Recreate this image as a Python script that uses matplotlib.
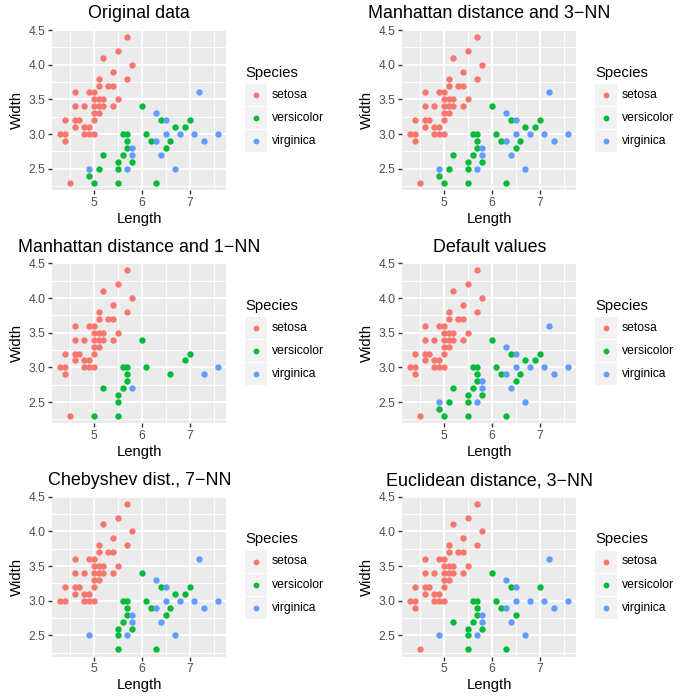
import matplotlib
matplotlib.use('Agg')
import matplotlib.pyplot as plt
from matplotlib.lines import Line2D
from matplotlib.patches import Rectangle
from matplotlib.ticker import MultipleLocator

plt.rcParams['font.family'] = ['Liberation Sans', 'DejaVu Sans']

# test-set points (sepal length, sepal width), grouped by true species
length = [
    # setosa
    5.7, 5.5, 5.2, 5.8, 5.4, 5.1, 5.7, 5.1, 5.3, 5.4,
    4.6, 4.9, 5.0, 5.0, 5.1, 5.2, 5.5, 4.6, 4.8, 5.0,
    5.1, 5.2, 5.4, 5.0, 5.1, 4.4, 4.6, 4.7, 5.0, 4.6,
    4.8, 4.9, 4.3, 4.4, 4.8, 4.9, 5.0, 4.4, 4.5,
    # versicolor
    6.0, 6.4, 7.0, 6.7, 6.9, 5.6, 5.7, 6.1, 5.7, 6.2,
    6.6, 5.7, 6.5, 5.2, 5.6, 5.5, 5.8, 5.1, 5.5, 4.9,
    5.0, 5.5, 6.3,
    # virginica
    7.2, 6.3, 6.5, 6.5, 6.8, 7.1, 7.6, 6.3, 7.3, 5.8,
    5.8, 6.4, 4.9, 5.7, 6.7,
]
width = [
    4.4, 4.2, 4.1, 4.0, 3.9, 3.8, 3.8, 3.7, 3.7, 3.7,
    3.6, 3.6, 3.6, 3.5, 3.5, 3.5, 3.5, 3.4, 3.4, 3.4,
    3.4, 3.4, 3.4, 3.3, 3.3, 3.2, 3.2, 3.2, 3.2, 3.1,
    3.1, 3.1, 3.0, 3.0, 3.0, 3.0, 3.0, 2.9, 2.3,
    3.4, 3.2, 3.2, 3.1, 3.1, 3.0, 3.0, 3.0, 2.9, 2.9,
    2.9, 2.8, 2.8, 2.7, 2.7, 2.6, 2.6, 2.5, 2.5, 2.4,
    2.3, 2.3, 2.3,
    3.6, 3.3, 3.2, 3.0, 3.0, 3.0, 3.0, 2.9, 2.9, 2.8,
    2.7, 2.7, 2.5, 2.5, 2.5,
]

species = ['setosa', 'versicolor', 'virginica']
codes = ['s', 'c', 'v']
colours = ['#F8766D', '#00BA38', '#619CFF']

titles = [
    'Original data',
    'Manhattan distance and 3\u2212NN',
    'Manhattan distance and 1\u2212NN',
    'Default values',
    'Chebyshev dist., 7\u2212NN',
    'Euclidean distance, 3\u2212NN',
]

# label per point in each panel ('.' = not shown)
all_setosa = 'sssssssssssssssssssssssssssssssssssssss'
all_versicolor = 'ccccccccccccccccccccccc'
all_virginica = 'vvvvvvvvvvvvvvv'
labels = [
    all_setosa + all_versicolor + all_virginica,
    all_setosa + all_versicolor + all_virginica,
    all_setosa + 'c.c.ccccc.cc.ccc..c.cc.' + '......v.v.v....',
    all_setosa + all_versicolor + all_virginica,
    'sssssssssssssssssssssssssssssssssssss..' + 'ccccccccccccc.ccc.c..cc' + all_virginica,
    all_setosa + 'ccc..ccccc.cccccc.c..cc' + all_virginica,
]

W = H = 700
col_x = [52.2, 402.2]
row_y = [29.7, 263.0, 496.4]
ax_w, ax_h = 174.2, 160.2


def fx(x):
    return x / W


def fy(y):
    return 1 - y / H


fig = plt.figure(figsize=(7, 7), dpi=100)

xmin, xmax = min(length), max(length)
ymin, ymax = min(width), max(width)
xpad = (xmax - xmin) * 0.05
ypad = (ymax - ymin) * 0.05

for i, title in enumerate(titles):
    r, c = divmod(i, 2)
    left, top = col_x[c], row_y[r]
    ax = fig.add_axes([fx(left), fy(top + ax_h), ax_w / W, ax_h / H])
    ax.set_facecolor('#EBEBEB')
    for s in ax.spines.values():
        s.set_visible(False)
    ax.set_xlim(xmin - xpad, xmax + xpad)
    ax.set_ylim(ymin - ypad, ymax + ypad)
    ax.xaxis.set_major_locator(MultipleLocator(1))
    ax.xaxis.set_minor_locator(MultipleLocator(0.5))
    ax.yaxis.set_major_locator(MultipleLocator(0.5))
    ax.yaxis.set_minor_locator(MultipleLocator(0.25))
    ax.yaxis.set_major_formatter(lambda v, p: '%.1f' % v)
    ax.grid(which='major', color='white', lw=1.37)
    ax.grid(which='minor', color='white', lw=0.68)
    ax.set_axisbelow(True)
    ax.tick_params(which='major', length=2.64, width=1.0, color='#333333',
                   labelcolor='#4D4D4D', labelsize=8.7, pad=2.2)
    ax.tick_params(which='minor', length=0)

    lab = labels[i]
    for code, col in zip(codes, colours):
        xs = [x for x, l in zip(length, lab) if l == code]
        ys = [y for y, l in zip(width, lab) if l == code]
        ax.scatter(xs, ys, s=21, color=col, linewidths=0, zorder=3)

    cx = left + ax_w / 2
    fig.text(fx(cx), fy(top - 11.2), title, ha='center', va='baseline', fontsize=12.9)
    fig.text(fx(cx), fy(top + ax_h + 32.8), 'Length', ha='center', va='baseline', fontsize=10.7)
    fig.text(fx(left - 35.7), fy(top + ax_h / 2), 'Width', ha='center', va='center',
             rotation=90, fontsize=10.7)

    # legend
    lx = left + 192.8
    fig.text(fx(lx), fy(top + 46.8), 'Species', ha='left', va='baseline', fontsize=10.7)
    for k, (name, col) in enumerate(zip(species, colours)):
        kc = top + 65.1 + k * 23.04
        fig.add_artist(Rectangle((fx(lx), fy(kc + 11)), 22 / W, 22 / H,
                                 transform=fig.transFigure, facecolor='#F2F2F2',
                                 edgecolor='none'))
        fig.add_artist(Line2D([fx(lx + 11)], [fy(kc)], marker='o', ms=4.2, mew=0,
                              color=col, transform=fig.transFigure))
        fig.text(fx(lx + 27), fy(kc), name, ha='left', va='center', fontsize=8.7)

fig.savefig('out.png', dpi=100, facecolor='white')
